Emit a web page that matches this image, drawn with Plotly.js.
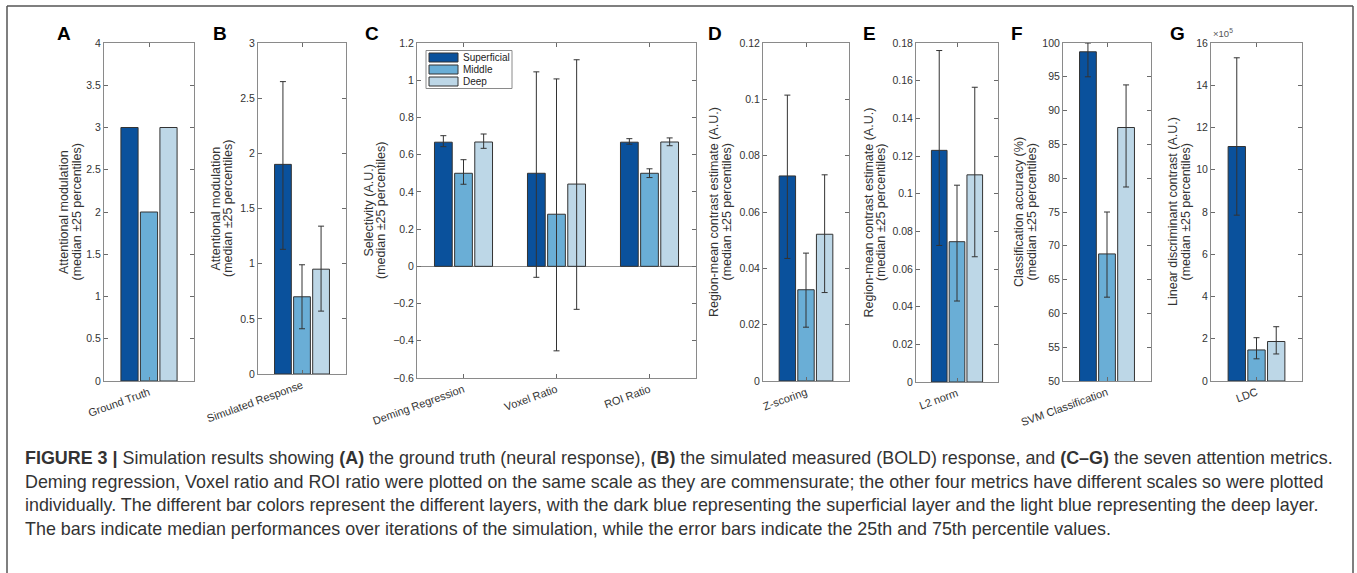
<!DOCTYPE html>
<html>
<head>
<meta charset="utf-8">
<script src="https://cdn.plot.ly/plotly-3.0.1.min.js"></script>
<style>
  html, body { margin: 0; padding: 0; background: #ffffff; }
  #chart { width: 1357px; height: 573px; }
</style>
</head>
<body>
<div id="chart"></div>
<script>
// ---------------- DATA ----------------
const layerNames = ['Superficial', 'Middle', 'Deep'];
const layerColors = ['#0a519c', '#6aaed6', '#bdd7e7'];

// A: Ground truth (no error bars)
const catsA = ['Ground Truth'];
const supA = [3.0], midA = [2.0], deepA = [3.0];

// B: Simulated response
const catsB = ['Simulated Response'];
const supB = [1.90], supB25 = [1.13], supB75 = [2.65];
const midB = [0.70], midB25 = [0.41], midB75 = [0.99];
const deepB = [0.95], deepB25 = [0.57], deepB75 = [1.34];

// C: Selectivity
const catsC = ['Deming Regression', 'Voxel Ratio', 'ROI Ratio'];
const supC = [0.667, 0.50, 0.667], supC25 = [0.643, -0.059, 0.656], supC75 = [0.702, 1.045, 0.686];
const midC = [0.50, 0.28, 0.50],   midC25 = [0.441, -0.454, 0.477], midC75 = [0.573, 1.007, 0.524];
const deepC = [0.668, 0.442, 0.668], deepC25 = [0.634, -0.231, 0.648], deepC75 = [0.711, 1.11, 0.690];

// D: Z-scoring
const catsD = ['Z-scoring'];
const supD = [0.0728], supD25 = [0.0435], supD75 = [0.1015];
const midD = [0.0324], midD25 = [0.0191], midD75 = [0.0454];
const deepD = [0.0521], deepD25 = [0.0314], deepD75 = [0.0732];

// E: L2 norm
const catsE = ['L2 norm'];
const supE = [0.123], supE25 = [0.0725], supE75 = [0.176];
const midE = [0.0745], midE25 = [0.043], midE75 = [0.1045];
const deepE = [0.110], deepE25 = [0.0665], deepE75 = [0.1565];

// F: SVM classification (%)
const catsF = ['SVM Classification'];
const supF = [98.7], supF25 = [95.0], supF75 = [100.0];
const midF = [68.8], midF25 = [62.4], midF75 = [75.0];
const deepF = [87.5], deepF25 = [78.7], deepF75 = [93.8];

// G: LDC
const catsG = ['LDC'];
const supG = [1.11e6], supG25 = [7.85e5], supG75 = [1.53e6];
const midG = [1.47e5], midG25 = [1.05e5], midG75 = [2.05e5];
const deepG = [1.87e5], deepG25 = [1.28e5], deepG75 = [2.57e5];
const ticksG = [0, 2e5, 4e5, 6e5, 8e5, 10e5, 12e5, 14e5, 16e5];
const tickTextG = ['0', '2', '4', '6', '8', '10', '12', '14', '16'];

const subLabel = '(median \u00b125 percentiles)';
const titleA = 'Attentional modulation';
const titleB = 'Attentional modulation';
const titleC = 'Selectivity (A.U.)';
const titleD = 'Region-mean contrast estimate (A.U.)';
const titleE = 'Region-mean contrast estimate (A.U.)';
const titleF = 'Classification accuracy (%)';
const titleG = 'Linear discriminant contrast (A.U.)';

// ---------------- BUILD ----------------
const W = 1357, H = 573;
const FONT = 'Liberation Sans, Arial, sans-serif';
const TXT = '#333333';
const traces = [];
const layout = {
  width: W, height: H,
  margin: {l: 0, r: 0, t: 0, b: 0},
  paper_bgcolor: '#ffffff', plot_bgcolor: '#ffffff',
  barmode: 'group', bargap: 0.35, bargroupgap: 0.12,
  showlegend: false,
  annotations: [], shapes: [],
  font: {family: FONT}
};
const px = x => x / W;
const py = y => 1 - y / H;

function panel(idx, box, cats, meds, q25s, q75s, yRange, yDtick, yTitle, titleX, extraY) {
  const ax = idx === 1 ? '' : String(idx);
  for (let s = 0; s < 3; s++) {
    const t = {
      type: 'bar', x: cats, y: meds[s], name: layerNames[s],
      xaxis: 'x' + ax, yaxis: 'y' + ax,
      marker: {color: layerColors[s], line: {color: '#333333', width: 1}},
      hoverinfo: 'skip'
    };
    if (q25s) {
      t.error_y = {
        type: 'data', symmetric: false,
        array: meds[s].map((v, i) => q75s[s][i] - v),
        arrayminus: meds[s].map((v, i) => v - q25s[s][i]),
        color: '#333333', thickness: 1, width: 3
      };
    }
    traces.push(t);
  }
  const [x0, x1, y0, y1] = box;
  const common = {
    showline: true, linecolor: '#8a8a8a', linewidth: 1, mirror: 'ticks',
    ticks: 'inside', ticklen: 4, tickcolor: '#6a6a6a', showgrid: false,
    fixedrange: true
  };
  layout['xaxis' + ax] = Object.assign({}, common, {
    domain: [px(x0), px(x1)], anchor: 'y' + ax,
    type: 'category', categoryorder: 'array', categoryarray: cats,
    range: [-0.5, cats.length - 0.5], tickangle: -20,
    zeroline: false,
    tickfont: {family: FONT, size: 11, color: TXT}
  });
  layout['yaxis' + ax] = Object.assign({}, common, {
    domain: [py(y1), py(y0)], anchor: 'x' + ax,
    range: yRange, dtick: yDtick, tick0: 0,
    zeroline: false,
    tickfont: {family: FONT, size: 10.5, color: TXT}
  }, extraY || {});
  // two-line y-axis title, placed as rotated text
  const yc = py((y0 + y1) / 2);
  [[yTitle, titleX], [subLabel, titleX + 12.5]].forEach(([txt, xx]) => layout.annotations.push({
    xref: 'paper', yref: 'paper', x: px(xx), y: yc, xanchor: 'center', yanchor: 'middle',
    text: txt, textangle: -90, showarrow: false,
    font: {family: FONT, size: 12.5, color: TXT}
  }));
}

panel(1, [104, 194, 43, 381], catsA, [supA, midA, deepA], null, null, [0, 4], 0.5, titleA, 64);
panel(2, [258, 346, 43, 374], catsB, [supB, midB, deepB], [supB25, midB25, deepB25], [supB75, midB75, deepB75], [0, 3], 0.5, titleB, 216);
panel(3, [417, 696, 43, 378], catsC, [supC, midC, deepC], [supC25, midC25, deepC25], [supC75, midC75, deepC75], [-0.6, 1.2], 0.2,
  titleC, 369, {zeroline: true, zerolinecolor: '#8a8a8a', zerolinewidth: 1});
panel(4, [763, 849, 43, 381], catsD, [supD, midD, deepD], [supD25, midD25, deepD25], [supD75, midD75, deepD75], [0, 0.12], 0.02, titleD, 714);
panel(5, [916, 998, 43, 382], catsE, [supE, midE, deepE], [supE25, midE25, deepE25], [supE75, midE75, deepE75], [0, 0.18], 0.02, titleE, 868);
panel(6, [1063, 1151, 43, 381], catsF, [supF, midF, deepF], [supF25, midF25, deepF25], [supF75, midF75, deepF75], [50, 100], 5, titleF, 1019);
panel(7, [1211, 1302, 43, 381], catsG, [supG, midG, deepG], [supG25, midG25, deepG25], [supG75, midG75, deepG75], [0, 16e5], null,
  titleG, 1173, {tickmode: 'array', tickvals: ticksG, ticktext: tickTextG});

// legend for panel C (drawn as box, swatches and labels)
layout.shapes.push({type: 'rect', xref: 'paper', yref: 'paper',
  x0: px(426), x1: px(512), y0: py(88.5), y1: py(50.5),
  line: {color: '#8a8a8a', width: 1}, fillcolor: '#ffffff', layer: 'above'});
layerNames.forEach((nm, i) => {
  const yc = 57.5 + i * 12;
  layout.shapes.push({type: 'rect', xref: 'paper', yref: 'paper',
    x0: px(429), x1: px(458), y0: py(yc + 4.5), y1: py(yc - 4.5),
    line: {color: '#333333', width: 1}, fillcolor: layerColors[i], layer: 'above'});
  layout.annotations.push({xref: 'paper', yref: 'paper', x: px(461), y: py(yc),
    xanchor: 'left', yanchor: 'middle', text: nm, showarrow: false,
    font: {family: FONT, size: 10, color: '#222'}});
});

// exponent label for G
layout.annotations.push({
  xref: 'paper', yref: 'paper', x: px(1211), y: py(41), xanchor: 'left', yanchor: 'bottom',
  text: '\u00d710<sup>5</sup>', showarrow: false, font: {family: FONT, size: 9.5, color: '#555'}
});

// panel letters
const letters = [['A', 64], ['B', 220], ['C', 372], ['D', 715], ['E', 870], ['F', 1017], ['G', 1177]];
letters.forEach(([l, x]) => layout.annotations.push({
  xref: 'paper', yref: 'paper', x: px(x), y: py(33), xanchor: 'center', yanchor: 'middle',
  text: '<b>' + l + '</b>', showarrow: false, font: {family: FONT, size: 19, color: '#000'}
}));

// caption
const captionLines = [
  '<b>FIGURE 3 |</b> Simulation results showing <b>(A)</b> the ground truth (neural response), <b>(B)</b> the simulated measured (BOLD) response, and <b>(C\u2013G)</b> the seven attention metrics.',
  'Deming regression, Voxel ratio and ROI ratio were plotted on the same scale as they are commensurate; the other four metrics have different scales so were plotted',
  'individually. The different bar colors represent the different layers, with the dark blue representing the superficial layer and the light blue representing the deep layer.',
  'The bars indicate median performances over iterations of the simulation, while the error bars indicate the 25th and 75th percentile values.'
];
const capY = [458, 481.5, 505, 528.5];
captionLines.forEach((t, i) => layout.annotations.push({
  xref: 'paper', yref: 'paper', x: px(23), y: py(capY[i]), xanchor: 'left', yanchor: 'middle',
  text: t, showarrow: false, align: 'left', font: {family: FONT, size: 17.9, color: '#333'}
}));

// outer frame (top, left, right)
const fr = {type: 'line', xref: 'paper', yref: 'paper', line: {color: '#555', width: 1.5}};
layout.shapes.push(Object.assign({}, fr, {x0: px(7), x1: px(1353), y0: py(6), y1: py(6)}));
layout.shapes.push(Object.assign({}, fr, {x0: px(7), x1: px(7), y0: py(6), y1: 0}));
layout.shapes.push(Object.assign({}, fr, {x0: px(1353), x1: px(1353), y0: py(6), y1: 0}));

Plotly.newPlot('chart', traces, layout, {displayModeBar: false, staticPlot: true});
</script>
</body>
</html>
